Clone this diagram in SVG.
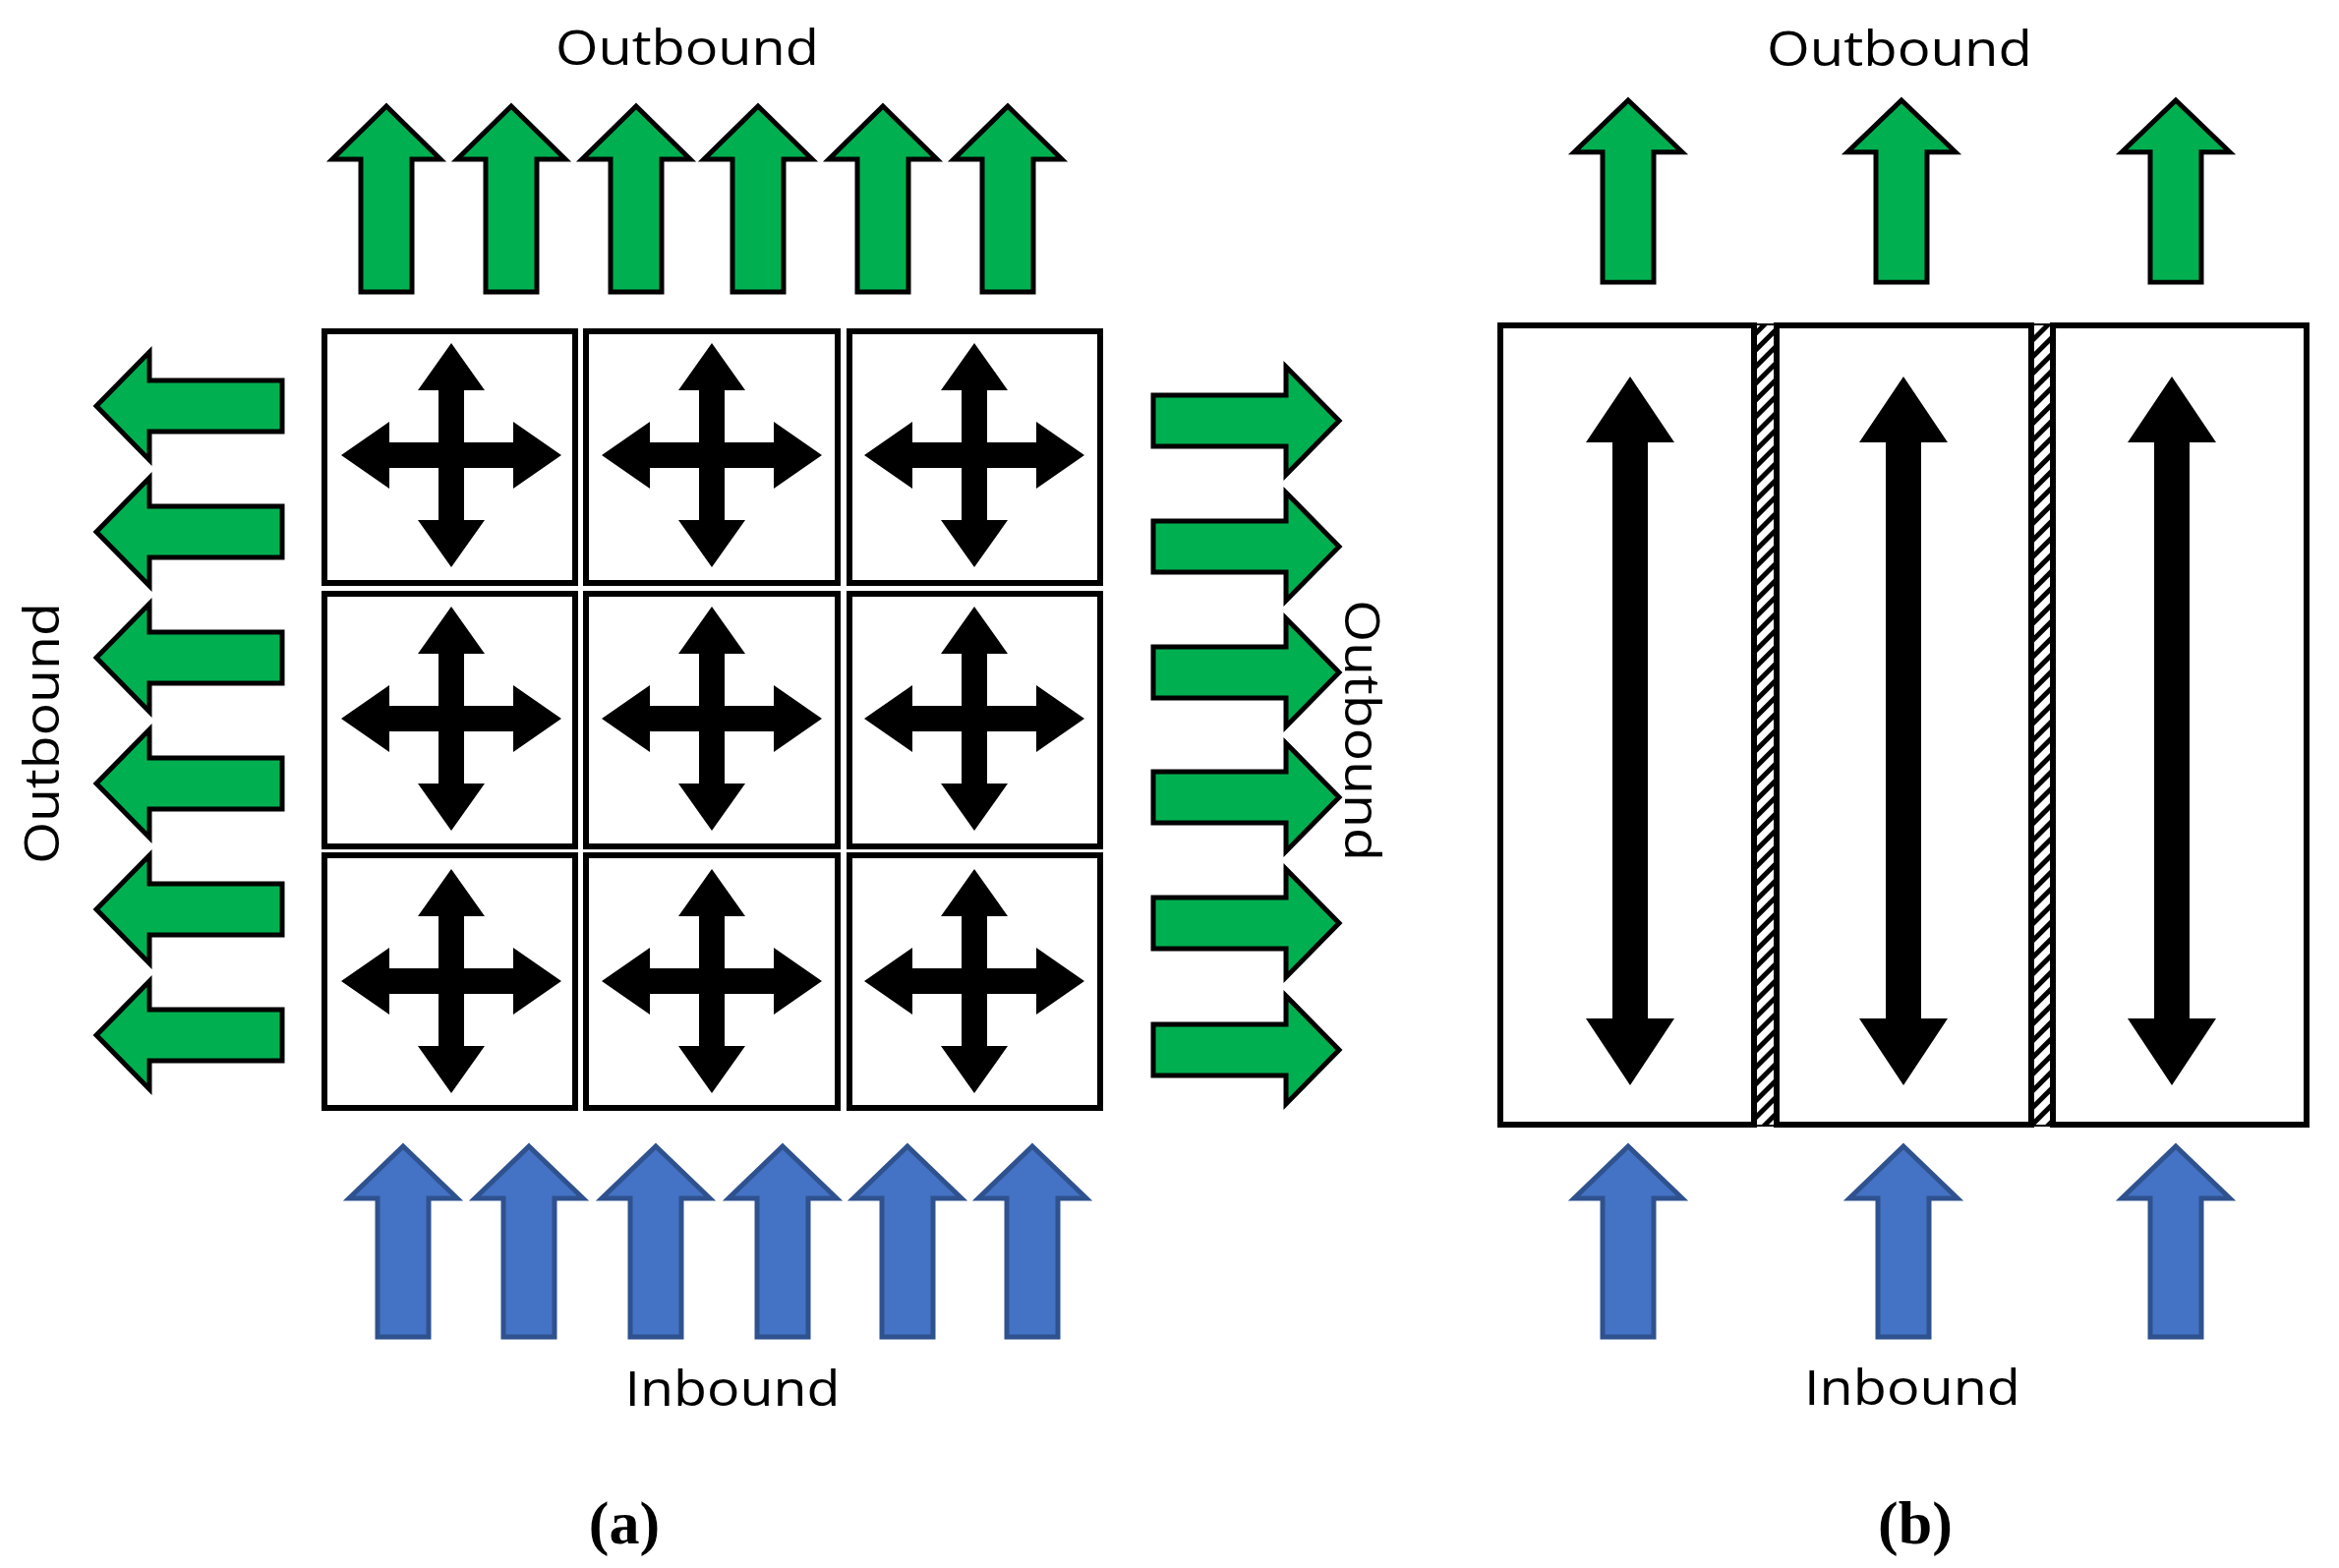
<svg xmlns="http://www.w3.org/2000/svg" width="2379" height="1595" viewBox="0 0 2379 1595">
<style>
.g{fill:#00B050;stroke:#000;stroke-width:5}
.b{fill:#4472C4;stroke:#2F528F;stroke-width:5}
.k{fill:#000}
.cell{fill:#fff;stroke:#000;stroke-width:6}
.t{font-family:"Open Sans","DejaVu Sans",sans-serif;font-size:50px;fill:#000;text-anchor:middle}
.f{font-family:"Liberation Serif",serif;font-size:62px;font-weight:bold;fill:#000;text-anchor:middle}
</style>
<defs>
<path id="up" d="M0,-95 L55,-41 L26,-41 L26,94 L-26,94 L-26,-41 L-55,-41 Z"/>
<path id="upb" d="M0,-97 L55,-44 L26,-44 L26,97 L-26,97 L-26,-44 L-55,-44 Z"/>
<path id="cross" d="M0,-114 L34,-66 L13,-66 L13,-13 L63,-13 L63,-34 L112,0 L63,34 L63,13 L13,13 L13,66 L34,66 L0,114 L-34,66 L-13,66 L-13,13 L-63,13 L-63,34 L-112,0 L-63,-34 L-63,-13 L-13,-13 L-13,-66 L-34,-66 Z"/>
<path id="dbl" d="M0,383 L45,450 L18,450 L18,1036 L45,1036 L0,1104 L-45,1036 L-18,1036 L-18,450 L-45,450 Z"/>
<pattern id="hatch" width="12" height="12" patternUnits="userSpaceOnUse" patternTransform="rotate(-45)">
<rect width="12" height="12" fill="#fff"/><rect width="12" height="5" fill="#000"/>
</pattern>
</defs>
<g id="panel-a-cells">
<rect class="cell" x="330" y="337" width="255" height="256"/>
<rect class="cell" x="596" y="337" width="256" height="256"/>
<rect class="cell" x="864" y="337" width="255" height="256"/>
<rect class="cell" x="330" y="604" width="255" height="257"/>
<rect class="cell" x="596" y="604" width="256" height="257"/>
<rect class="cell" x="864" y="604" width="255" height="257"/>
<rect class="cell" x="330" y="870" width="255" height="257"/>
<rect class="cell" x="596" y="870" width="256" height="257"/>
<rect class="cell" x="864" y="870" width="255" height="257"/>
<g class="k">
<use href="#cross" x="459" y="463"/><use href="#cross" x="724" y="463"/><use href="#cross" x="991" y="463"/>
<use href="#cross" x="459" y="731"/><use href="#cross" x="724" y="731"/><use href="#cross" x="991" y="731"/>
<use href="#cross" x="459" y="998"/><use href="#cross" x="724" y="998"/><use href="#cross" x="991" y="998"/>
</g>
</g>
<g id="connectors">
<g class="g">
<use href="#up" transform="translate(393,203)"/><use href="#up" transform="translate(520,203)"/><use href="#up" transform="translate(647,203)"/>
<use href="#up" transform="translate(771,203)"/><use href="#up" transform="translate(898,203)"/><use href="#up" transform="translate(1025,203)"/>
<use href="#up" transform="translate(193,413) rotate(-90)"/><use href="#up" transform="translate(193,541) rotate(-90)"/><use href="#up" transform="translate(193,669) rotate(-90)"/>
<use href="#up" transform="translate(193,797) rotate(-90)"/><use href="#up" transform="translate(193,925) rotate(-90)"/><use href="#up" transform="translate(193,1053) rotate(-90)"/>
<use href="#up" transform="translate(1267,428) rotate(90)"/><use href="#up" transform="translate(1267,556) rotate(90)"/><use href="#up" transform="translate(1267,684) rotate(90)"/>
<use href="#up" transform="translate(1267,811) rotate(90)"/><use href="#up" transform="translate(1267,939) rotate(90)"/><use href="#up" transform="translate(1267,1068) rotate(90)"/>
<use href="#up" transform="translate(1656,195) scale(1,0.98)"/><use href="#up" transform="translate(1934,195) scale(1,0.98)"/><use href="#up" transform="translate(2213,195) scale(1,0.98)"/>
</g>
<g class="b">
<use href="#upb" transform="translate(410,1263)"/><use href="#upb" transform="translate(538,1263)"/><use href="#upb" transform="translate(667,1263)"/>
<use href="#upb" transform="translate(796,1263)"/><use href="#upb" transform="translate(923,1263)"/><use href="#upb" transform="translate(1050,1263)"/>
<use href="#upb" transform="translate(1656,1263)"/><use href="#upb" transform="translate(1936,1263)"/><use href="#upb" transform="translate(2213,1263)"/>
</g>
</g>
<g id="panel-b-lanes">
<rect x="1784" y="330" width="23" height="815" fill="url(#hatch)" stroke="#000" stroke-width="2"/>
<rect x="2066" y="330" width="22" height="815" fill="url(#hatch)" stroke="#000" stroke-width="2"/>
<rect class="cell" x="1526" y="331" width="258" height="813"/>
<rect class="cell" x="1807" y="331" width="259" height="813"/>
<rect class="cell" x="2088" y="331" width="258" height="813"/>
<g class="k">
<use href="#dbl" x="1658"/><use href="#dbl" x="1936"/><use href="#dbl" x="2209"/>
</g>
</g>
<g id="labels">
<text class="t" x="699" y="66" textLength="268" lengthAdjust="spacingAndGlyphs">Outbound</text>
<text class="t" transform="translate(60,746) rotate(-90)" textLength="266" lengthAdjust="spacingAndGlyphs">Outbound</text>
<text class="t" transform="translate(1368,743) rotate(90)" textLength="266" lengthAdjust="spacingAndGlyphs">Outbound</text>
<text class="t" x="745" y="1430" textLength="219" lengthAdjust="spacingAndGlyphs">Inbound</text>
<text class="t" x="1932" y="67" textLength="270" lengthAdjust="spacingAndGlyphs">Outbound</text>
<text class="t" x="1945" y="1429" textLength="220" lengthAdjust="spacingAndGlyphs">Inbound</text>
<text class="f" x="635" y="1570">(<tspan font-weight="bold">a</tspan>)</text>
<text class="f" x="1948" y="1570">(b)</text>
</g>
</svg>
